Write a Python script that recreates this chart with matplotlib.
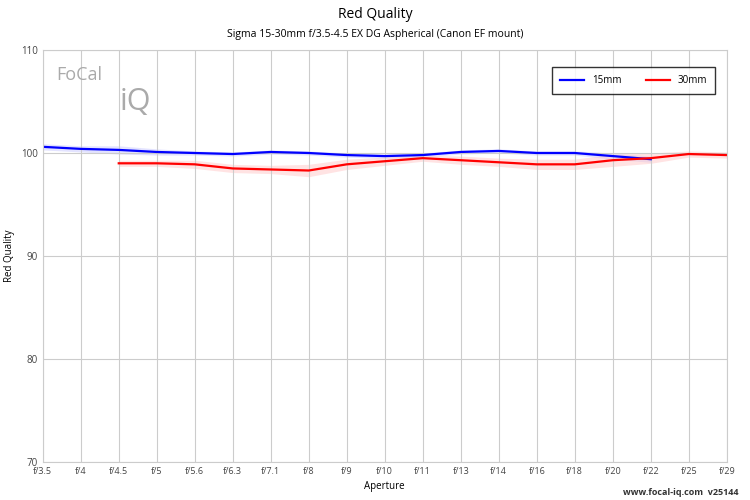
import numpy as np
import matplotlib.pyplot as plt

stops = ["f/3.5", "f/4", "f/4.5", "f/5", "f/5.6", "f/6.3", "f/7.1", "f/8", "f/9", "f/10",
         "f/11", "f/13", "f/14", "f/16", "f/18", "f/20", "f/22", "f/25", "f/29"]
q15 = [100.6, 100.4, 100.3, 100.1, 100.0, 99.9, 100.1, 100.0, 99.8, 99.7,
       99.8, 100.1, 100.2, 100.0, 100.0, 99.7, 99.4]
spread15 = [0.3, 0.3, 0.4, 0.3, 0.2, 0.2, 0.2, 0.2, 0.2, 0.2,
            0.2, 0.2, 0.2, 0.2, 0.2, 0.3, 0.3]
q30 = [99.0, 99.0, 98.9, 98.5, 98.4, 98.3, 98.9, 99.2, 99.5, 99.3,
       99.1, 98.9, 98.9, 99.3, 99.5, 99.9, 99.8]
spread30 = [0.3, 0.3, 0.4, 0.4, 0.4, 0.6, 0.5, 0.4, 0.3, 0.4,
            0.4, 0.5, 0.5, 0.6, 0.5, 0.3, 0.3]

x = np.arange(len(stops))
x15 = x[:len(q15)]
x30 = x[2:2 + len(q30)]

plt.rcParams["font.family"] = "Open Sans"
fig = plt.figure(figsize=(7.5, 5), dpi=100)
ax = fig.add_axes([0.057, 0.076, 0.912, 0.824])

ax.fill_between(x15, np.array(q15) - spread15, np.array(q15) + spread15, color="#c8c8ff", alpha=0.5, lw=0)
ax.fill_between(x30, np.array(q30) - spread30, np.array(q30) + spread30, color="#ffc8c8", alpha=0.5, lw=0)
ax.plot(x15, q15, color="#0000ff", lw=1.6, label="15mm")
ax.plot(x30, q30, color="#ff0000", lw=1.6, label="30mm")

ax.set_xlim(0, len(stops) - 1)
ax.set_ylim(70, 110)
ax.set_xticks(x)
ax.set_xticklabels(stops, fontsize=6.5, color="#444444")
ax.set_yticks([70, 80, 90, 100, 110])
ax.tick_params(axis="y", labelsize=7, colors="#444444", length=0)
ax.tick_params(axis="x", length=0)
ax.grid(True, color="#cccccc", lw=0.8)
for s in ax.spines.values():
    s.set_color("#cccccc")
ax.set_xlabel("Aperture", fontsize=7)
ax.set_ylabel("Red Quality", fontsize=7)
fig.text(0.5, 0.965, "Red Quality", ha="center", fontsize=10)
fig.text(0.5, 0.925, "Sigma 15-30mm f/3.5-4.5 EX DG Aspherical (Canon EF mount)", ha="center", fontsize=7.5)
fig.text(0.985, 0.01, "www.focal-iq.com  v25144", ha="right", fontsize=6.5, color="#333333", weight="bold")
fig.text(0.075, 0.84, "FoCal", fontsize=13, color="#aaaaaa")
fig.text(0.16, 0.78, "iQ", fontsize=22, color="#aaaaaa")
leg = ax.legend(loc="upper right", ncol=2, fontsize=7, fancybox=False, edgecolor="black",
                bbox_to_anchor=(0.99, 0.97), handlelength=2.5, borderpad=0.8, columnspacing=2.5)
leg.get_frame().set_linewidth(1)
fig.savefig("out.png")
